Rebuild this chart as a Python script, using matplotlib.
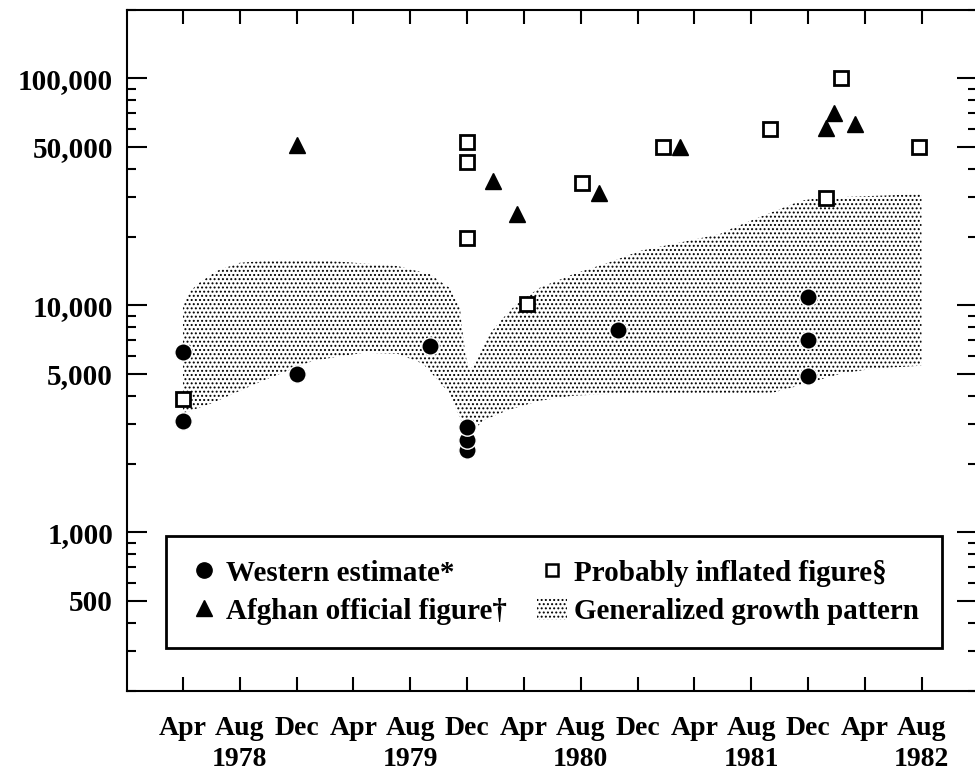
import numpy as np
import matplotlib
matplotlib.use("Agg")
import matplotlib.pyplot as plt
from matplotlib.ticker import FixedLocator, LogLocator, NullFormatter
from matplotlib.lines import Line2D
from matplotlib.patches import Patch

plt.rcParams['font.family'] = ['Liberation Serif', 'DejaVu Serif']
plt.rcParams['font.weight'] = 'bold'
plt.rcParams['hatch.linewidth'] = 0.9
plt.rcParams['hatch.color'] = 'black'

# x values are months counted from Jan 1978 (Apr 1978 = 3, Dec 1979 = 23, ...)
month_ticks = [3, 7, 11, 15, 19, 23, 27, 31, 35, 39, 43, 47, 51, 55]
month_labels = ['Apr', 'Aug', 'Dec', 'Apr', 'Aug', 'Dec', 'Apr', 'Aug', 'Dec',
                'Apr', 'Aug', 'Dec', 'Apr', 'Aug']
year_labels = ['1978', '1979', '1980', '1981', '1982']
year_label_months = [7, 19, 31, 43, 55]

y_ticks = [500, 1000, 5000, 10000, 50000, 100000]
y_tick_labels = ['500', '1,000', '5,000', '10,000', '50,000', '100,000']

# Western estimate*
western_month = [3, 3, 11, 20.4, 23, 23, 23, 33.6, 47, 47, 47]
western_value = [6200, 3100, 5000, 6650, 2300, 2550, 2900, 7750, 10900, 7000, 4900]

# Afghan official figure
afghan_month = [11, 24.8, 26.5, 32.3, 38.0, 48.3, 48.8, 50.3]
afghan_value = [50700, 35300, 25200, 31200, 49800, 60300, 70200, 62800]

# Probably inflated figure
inflated_month = [3, 23, 23, 23, 27.2, 31.1, 36.8, 44.3, 48.3, 49.3, 54.8]
inflated_value = [3850, 52300, 42800, 19800, 10150, 34500, 50000, 60000, 29700, 100000, 50000]

# Generalized growth pattern (band edges)
band_upper_month = [3, 3.4, 4.0, 5.4, 7.0, 9.8, 13.3, 18.1, 20.4, 21.8, 22.5, 22.7, 22.9,
                    23.2, 23.7, 24.6, 25.8, 26.5, 28.1, 30.5, 32.9, 35.2, 37.5, 40.8,
                    41.7, 44.1, 46.45, 47.6, 55]
band_upper = [10000, 11300, 12400, 14200, 15400, 15850, 15700, 14900, 13700, 11900, 9750,
              7500, 6000, 5150, 5880, 7500, 9180, 10160, 11940, 13740, 15380, 17380, 18630,
              20610, 21900, 25200, 28800, 29700, 30900]
band_lower_month = [3, 5.1, 8.6, 12.15, 15.7, 18.1, 19.9, 21.6, 22.5, 22.86, 23.07, 23.6,
                    24.1, 25.8, 28.1, 30.5, 35.2, 39.9, 44.5, 46.9, 49.3, 51.6, 55]
band_lower = [3340, 3720, 4650, 5700, 6180, 6120, 5530, 4210, 3200, 2800, 2670, 2870,
              3100, 3440, 3800, 4000, 4120, 4080, 4120, 4520, 5000, 5260, 5420]

legend_labels = ['Western estimate*', 'Afghan official figure\u2020',
                 'Probably inflated figure\u00a7', 'Generalized growth pattern']

fig = plt.figure(figsize=(9.75, 7.72), dpi=100)
ax = fig.add_axes([127 / 975, 81 / 772, 850 / 975, 681 / 772])

poly_x = np.concatenate([band_upper_month, band_lower_month[::-1]])
poly_y = np.concatenate([band_upper, band_lower[::-1]])
ax.fill(poly_x, poly_y, facecolor='white', edgecolor='black', hatch='....',
        linewidth=0, zorder=1)

ax.plot(western_month, western_value, 'o', mfc='black', mec='white', mew=1.0,
        ms=12.5, zorder=3, ls='none')
ax.plot(afghan_month, afghan_value, '^', color='black', ms=12, zorder=3, ls='none')
ax.plot(inflated_month, inflated_value, 's', mfc='white', mec='black', mew=2.0,
        ms=10, zorder=4, ls='none')

ax.set_yscale('log')
ax.set_ylim(200, 200000)
ax.set_xlim(-0.94, 58.9)

ax.yaxis.set_major_locator(FixedLocator(y_ticks))
ax.set_yticklabels(y_tick_labels)
ax.yaxis.set_minor_locator(LogLocator(base=10, subs=[2, 3, 4, 5, 6, 7, 8, 9], numticks=20))
ax.yaxis.set_minor_formatter(NullFormatter())

ax.set_xticks(month_ticks)
ax.set_xticklabels(month_labels)

ax.tick_params(axis='y', which='major', direction='in', length=14.5, width=1.5,
               right=True, labelsize=21, pad=10)
ax.tick_params(axis='y', which='minor', direction='in', length=6.5, width=1.5, right=True)
ax.tick_params(axis='x', which='major', direction='in', length=10, width=1.5,
               top=True, labelsize=20, pad=18)
ax.tick_params(axis='x', which='minor', bottom=False, top=False)

for s in ax.spines.values():
    s.set_linewidth(1.5)

for yl, ym in zip(year_labels, year_label_months):
    ax.text(ym, -0.1105, yl, transform=ax.get_xaxis_transform(), ha='center',
            va='baseline', fontsize=20, fontweight='bold')

handles = [
    Line2D([], [], marker='o', color='black', ls='none', ms=11),
    Line2D([], [], marker='^', color='black', ls='none', ms=11),
    Line2D([], [], marker='s', mfc='white', mec='black', mew=1.8, ls='none', ms=9),
    Patch(facecolor='white', edgecolor='black', hatch='....', linewidth=0),
]
leg = ax.legend(handles, legend_labels, ncol=2, loc='lower left',
                bbox_to_anchor=(0.046, 0.063, 0.913, 0.165), mode='expand',
                borderaxespad=0, frameon=True, fancybox=False, edgecolor='black',
                framealpha=1, handlelength=1.0, handleheight=0.8, handletextpad=0.25,
                columnspacing=0.5, fontsize=21, labelspacing=0.36, borderpad=0.8)
leg.get_frame().set_linewidth(2)

fig.savefig('out.png', dpi=100)
